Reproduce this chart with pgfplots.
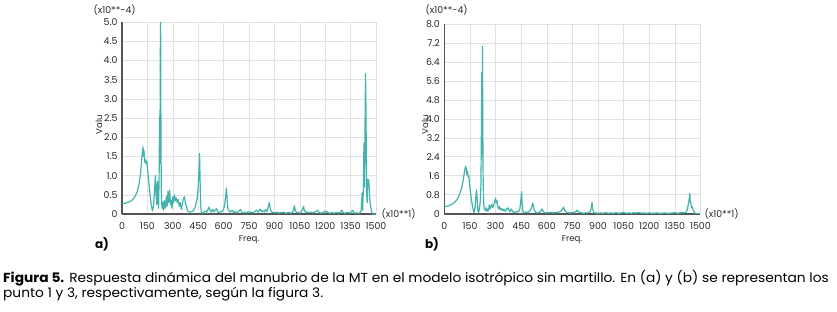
\documentclass[border=0pt]{standalone}
\usepackage{pgfplots}
\pgfplotsset{compat=1.18}
\usepackage{pgfplotstable}
\usepackage{fontspec}
\setmainfont{Poppins}
\newfontfamily\capfont[FakeStretch=1.05]{Poppins}
\definecolor{teal1}{RGB}{66,180,172}
\definecolor{axgray}{RGB}{85,85,85}
\definecolor{gridc}{RGB}{225,225,225}
\definecolor{txt}{RGB}{40,40,40}

\pgfplotstableread{
f v
0 0.27
20 0.28
40 0.31
60 0.36
75 0.44
90 0.58
100 0.75
108 1.0
114 1.3
120 1.6
124 1.75
127 1.5
130 1.65
134 1.35
138 1.42
142 1.3
146 1.38
150 1.2
156 0.95
162 0.65
168 0.4
174 0.2
180 0.08
186 0.2
192 0.6
197 1.0
201 0.5
205 0.25
209 0.85
213 0.35
216 0.15
219 0.9
222 2.55
224 1.3
226 4.15
228 5.0
230 2.2
232 0.6
236 0.15
240 0.3
245 0.1
250 0.35
255 0.15
262 0.45
266 0.2
272 0.6
276 0.3
282 0.62
286 0.25
290 0.35
295 0.15
300 0.45
305 0.3
310 0.5
315 0.35
320 0.42
326 0.3
332 0.38
338 0.2
344 0.3
350 0.12
356 0.25
362 0.38
368 0.45
374 0.3
380 0.2
386 0.1
392 0.06
400 0.05
410 0.06
420 0.08
430 0.15
438 0.3
444 0.4
450 0.7
454 1.1
458 1.58
461 0.9
464 0.3
468 0.05
475 0.02
485 0.05
492 0.08
500 0.05
508 0.12
514 0.18
520 0.1
528 0.05
535 0.12
542 0.06
550 0.1
558 0.14
565 0.05
575 0.04
585 0.06
595 0.08
605 0.2
612 0.45
617 0.68
621 0.35
625 0.15
632 0.08
640 0.05
650 0.1
660 0.04
670 0.06
680 0.03
690 0.08
700 0.12
706 0.05
715 0.03
725 0.05
735 0.02
745 0.06
755 0.04
765 0.05
775 0.03
785 0.07
795 0.1
805 0.05
815 0.13
822 0.06
830 0.09
840 0.05
848 0.12
855 0.06
862 0.15
870 0.3
876 0.12
884 0.05
895 0.04
905 0.03
915 0.05
925 0.02
935 0.04
945 0.03
955 0.05
965 0.02
975 0.03
985 0.04
995 0.02
1005 0.04
1012 0.08
1018 0.22
1024 0.08
1032 0.03
1042 0.04
1050 0.02
1058 0.05
1066 0.12
1072 0.2
1078 0.08
1086 0.04
1095 0.05
1105 0.03
1115 0.05
1125 0.03
1135 0.04
1145 0.07
1155 0.1
1162 0.05
1170 0.03
1180 0.02
1190 0.05
1198 0.08
1205 0.04
1212 0.06
1220 0.03
1230 0.02
1240 0.04
1250 0.02
1260 0.03
1270 0.04
1280 0.02
1290 0.05
1298 0.1
1305 0.04
1315 0.02
1325 0.03
1335 0.04
1345 0.02
1355 0.06
1362 0.1
1368 0.04
1375 0.02
1385 0.03
1395 0.02
1405 0.03
1412 0.08
1418 0.55
1421 0.1
1425 0.6
1429 1.85
1432 0.7
1435 2.2
1438 3.65
1441 2.7
1444 0.6
1448 0.3
1452 0.9
1457 0.88
1461 0.6
1465 0.3
1470 0.15
1475 0.05
1480 0.0
1500 0.0
}\dataA

\pgfplotstableread{
f v
0 0.3
20 0.32
40 0.38
60 0.48
75 0.6
90 0.85
100 1.05
110 1.4
118 1.8
124 2.0
128 1.9
131 1.65
135 1.8
139 1.55
143 1.6
148 1.2
153 0.9
158 0.6
164 0.35
170 0.12
175 0.05
180 0.3
185 0.8
188 1.0
192 0.6
196 0.15
200 0.05
205 0.2
210 0.5
214 1.2
217 3.7
219 5.95
221 2.5
223 7.05
225 3.7
227 1.5
229 0.6
233 0.2
238 0.15
243 0.25
248 0.1
253 0.2
258 0.12
263 0.38
268 0.2
273 0.3
278 0.4
284 0.25
290 0.4
296 0.55
300 0.65
304 0.45
308 0.55
313 0.3
318 0.2
323 0.3
330 0.15
337 0.22
344 0.12
350 0.18
358 0.1
365 0.2
372 0.25
378 0.15
385 0.08
392 0.2
398 0.12
405 0.05
412 0.08
420 0.05
428 0.1
435 0.08
442 0.2
447 0.5
452 0.93
455 0.5
459 0.15
464 0.05
470 0.04
480 0.08
490 0.05
500 0.12
508 0.2
514 0.35
518 0.45
522 0.3
528 0.12
535 0.05
545 0.03
555 0.06
565 0.1
572 0.2
578 0.12
585 0.05
595 0.03
605 0.05
615 0.04
625 0.06
635 0.03
645 0.05
655 0.04
665 0.06
675 0.08
685 0.12
692 0.2
698 0.28
704 0.15
710 0.1
718 0.06
725 0.04
735 0.03
745 0.05
755 0.04
765 0.07
772 0.1
778 0.15
784 0.1
790 0.06
798 0.04
808 0.03
818 0.02
828 0.04
838 0.03
848 0.05
855 0.1
861 0.25
865 0.48
869 0.2
875 0.05
885 0.03
900 0.02
915 0.03
930 0.02
945 0.04
960 0.02
975 0.03
990 0.02
1005 0.04
1020 0.02
1035 0.03
1050 0.05
1065 0.02
1080 0.03
1095 0.02
1110 0.04
1125 0.03
1140 0.05
1155 0.02
1170 0.03
1185 0.02
1200 0.03
1215 0.02
1230 0.02
1245 0.03
1260 0.02
1275 0.02
1290 0.03
1305 0.02
1320 0.02
1335 0.03
1350 0.04
1365 0.02
1380 0.03
1395 0.05
1405 0.04
1415 0.05
1422 0.15
1428 0.35
1433 0.55
1438 0.86
1441 0.5
1444 0.45
1448 0.25
1452 0.3
1456 0.2
1461 0.1
1466 0.05
1472 0.0
1500 0.0
}\dataB

\pgfplotsset{
  spec/.style={
    scale only axis,
    anchor=south west,
    xmin=0, xmax=1500,
    ymin=0,
    axis lines*=left,
    axis line style={axgray, line width=1.3pt},
    x axis line style={line width=2pt},
    grid=major,
    major grid style={gridc, line width=0.6pt},
    major tick length=0pt,
    xtick={0,150,...,1500},
    xticklabels={0,150,300,450,600,750,900,1050,1200,1350,1500},
    tick label style={font=\fontsize{9.4}{10}\selectfont, text=txt},
    /pgf/number format/assume math mode=true,
    /pgf/number format/1000 sep={},
    xticklabel style={yshift=-5.5pt},
    yticklabel style={xshift=-1pt},
    clip=true,
  }
}

\begin{document}
\begin{tikzpicture}[x=1pt,y=1pt]
\path[use as bounding box] (0pt,0pt) rectangle (837pt,311pt);

\begin{axis}[spec, at={(122pt,97pt)}, width=254pt, height=192pt,
  ymax=5,
  ytick={0,0.5,...,5},
  yticklabels={0,0.5,1.0,1.5,2.0,2.5,3.0,3.5,4.0,4.5,5.0},
]
\addplot[teal1, line width=1.2pt, line join=round] table[x=f,y=v] {\dataA};
\end{axis}

\begin{axis}[spec, at={(444.4pt,97.3pt)}, width=256pt, height=189.7pt,
  ymax=8,
  ytick={0,0.8,...,8},
  yticklabels={0,0.8,1.6,2.4,3.2,4.0,4.8,5.6,6.4,7.2,8.0},
]
\addplot[teal1, line width=1.2pt, line join=round] table[x=f,y=v] {\dataB};
\end{axis}

\begin{scope}[font=\fontsize{9.4}{10}\selectfont, text=txt]
\node[anchor=west] at (90pt,301.5pt) {(x10**-4)};
\node[anchor=west] at (422pt,301.5pt) {(x10**-4)};
\node[anchor=west] at (378pt,97pt) {(x10**1)};
\node[anchor=west] at (701pt,97.3pt) {(x10**1)};
\end{scope}
\begin{scope}[font=\fontsize{8.6}{9}\selectfont, text=txt]
\node at (249pt,71pt) {Freq.};
\node at (572pt,71pt) {Freq.};
\node[rotate=90] at (99pt,186pt) {Valu};
\node[rotate=90] at (425pt,186pt) {Valu};
\end{scope}
\node[font=\fontsize{12}{13}\selectfont\bfseries, text=black] at (102pt,67pt) {a)};
\node[font=\fontsize{12}{13}\selectfont\bfseries, text=black] at (432pt,67pt) {b)};

\begin{scope}[font=\capfont\fontsize{13.1}{15}\selectfont, text=black]
\node[anchor=base west, inner sep=0pt] at (3pt,29pt)
{\textbf{Figura 5.} Respuesta dinámica del manubrio de la MT en el modelo isotrópico sin martillo. En (a) y (b) se representan los};
\node[anchor=base west, inner sep=0pt] at (3pt,14pt)
{punto 1 y 3, respectivamente, según la figura 3.};
\end{scope}
\end{tikzpicture}
\end{document}
